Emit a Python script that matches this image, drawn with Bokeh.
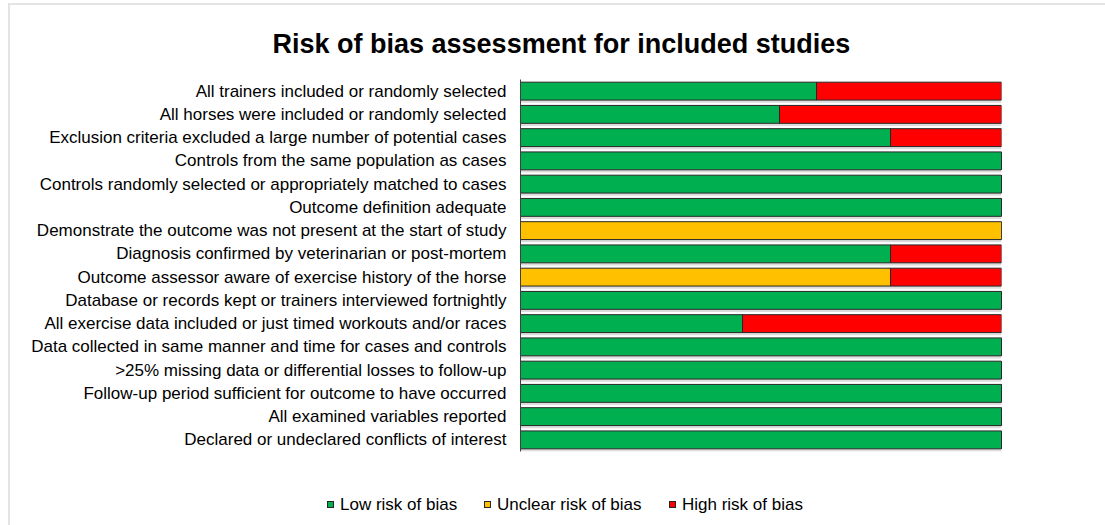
from bokeh.plotting import figure
from bokeh.layouts import column
from bokeh.models import Range1d, FactorRange, Title, Div
from bokeh.transform import dodge
from bokeh.embed import file_html
from bokeh.resources import INLINE

categories = [
    "All trainers included or randomly selected",
    "All horses were included or randomly selected",
    "Exclusion criteria excluded a large number of potential cases",
    "Controls from the same population as cases",
    "Controls randomly selected or appropriately matched to cases",
    "Outcome definition adequate",
    "Demonstrate the outcome was not present at the start of study",
    "Diagnosis confirmed by veterinarian or post-mortem",
    "Outcome assessor aware of exercise history of the horse",
    "Database or records kept or trainers interviewed fortnightly",
    "All exercise data included or just timed workouts and/or races",
    "Data collected in same manner and time for cases and controls",
    ">25% missing data or differential losses to follow-up",
    "Follow-up period sufficient for outcome to have occurred",
    "All examined variables reported",
    "Declared or undeclared conflicts of interest",
]
n_studies = 13
low = [8, 7, 10, 13, 13, 13, 0, 10, 0, 13, 6, 13, 13, 13, 13, 13]
unclear = [0, 0, 0, 0, 0, 0, 13, 0, 10, 0, 0, 0, 0, 0, 0, 0]
high = [5, 6, 3, 0, 0, 0, 0, 3, 3, 0, 7, 0, 0, 0, 0, 0]
series_names = ["Low risk of bias", "Unclear risk of bias", "High risk of bias"]
colors = ["#00B050", "#FFC000", "#FF0000"]

data = {
    "cat": categories,
    "low": [v * 100.0 / n_studies for v in low],
    "unclear": [v * 100.0 / n_studies for v in unclear],
    "high": [v * 100.0 / n_studies for v in high],
}
data["total"] = [a + b + c for a, b, c in zip(data["low"], data["unclear"], data["high"])]

W = 1093
p = figure(
    width=W, height=470,
    y_range=FactorRange(*reversed(categories), range_padding=0.0),
    x_range=Range1d(0, 100),
    output_backend="svg", toolbar_location=None,
    min_border_left=510, min_border_right=102,
    min_border_top=73, min_border_bottom=24,
)

# faint shadow under each bar
p.hbar(y=dodge("cat", -0.11, range=p.y_range), left=0, right="total", height=0.77,
       source=data, fill_color="#dcdcdc", line_color=None)

renderers = p.hbar_stack(
    ["low", "unclear", "high"], y="cat", height=0.77, source=data,
    color=colors, line_color="#262626", line_width=1,
)
for r in renderers:
    r.glyph.line_color = "#262626"

p.xaxis.visible = False
p.xgrid.visible = False
p.ygrid.visible = False
p.outline_line_color = None

ax = p.yaxis[0]
ax.major_tick_line_color = None
ax.minor_tick_line_color = None
ax.major_tick_out = 0
ax.major_tick_in = 0
ax.major_label_standoff = 14
ax.axis_line_color = "#404040"
ax.axis_line_width = 1
ax.major_label_text_font = "Liberation Sans"
ax.major_label_text_font_size = "17px"
ax.major_label_text_color = "#000000"

title = Title(text="Risk of bias assessment for included studies", align="left",
              text_font="Liberation Sans", text_font_size="27px", text_font_style="bold",
              text_color="#000000", offset=-248, standoff=42)
p.add_layout(title, "above")

# legend strip below the chart (HTML, real text)
item_left = [312, 469, 654]
parts = []
for name, col, x in zip(series_names, colors, item_left):
    parts.append(
        f'<span style="position:absolute;left:{x}px;top:21px;width:7px;height:7px;'
        f'background:{col};border:1px solid #262626;"></span>'
        f'<span style="position:absolute;left:{x + 13}px;top:15px;line-height:20px;'
        f'font-family:\'Liberation Sans\',Arial,sans-serif;font-size:17px;color:#000;'
        f'white-space:nowrap;">{name}</span>'
    )
legend_div = Div(
    text='<div style="position:relative;width:1093px;height:45px;">' + "".join(parts) + "</div>",
    width=W, height=45,
)

layout = column(p, legend_div, spacing=0)
layout.styles = {"margin-top": "3px", "margin-left": "8px",
                 "border-top": "2px solid #e4e4e4", "border-left": "2px solid #e4e4e4"}

open("out.html", "w").write(file_html(layout, INLINE))
